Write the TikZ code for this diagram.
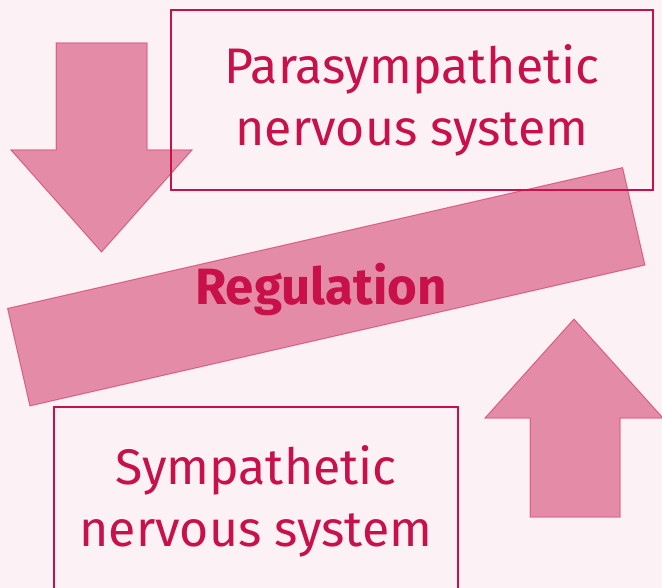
\documentclass[tikz,border=0pt]{standalone}
\usepackage{fontspec}
\setmainfont{Fira Sans}
\definecolor{crimson}{HTML}{C8104A}
\definecolor{blush}{HTML}{FCF2F5}
\tikzset{
  nsbox/.style={draw=crimson, line width=2pt, text=crimson, align=center,
    inner sep=0pt, font=\fontsize{50}{62}\selectfont},
  shade/.style={fill=crimson, fill opacity=0.45, draw=crimson, draw opacity=0.5, line width=1pt},
}

\begin{document}
\begin{tikzpicture}[x=1pt,y=-1pt]
  \fill[blush] (0,0) rectangle (662,588);
  \clip (0,0) rectangle (662,588);

  % the two systems
  \node[nsbox, minimum width=482, minimum height=180] (para) at (412,100) {Parasympathetic\\nervous system};
  \node[nsbox, minimum width=404, minimum height=188] (symp) at (256,501) {Sympathetic\\nervous system};

  % regulation band
  \node[shade, rotate=12.9, minimum width=631, minimum height=100, inner sep=0pt] (band) at (326.25,286.75) {};

  % arrows
  \draw[shade] (56,43) -- (147,43) -- (147,150) -- (192,150) -- (101.5,252) -- (11,150) -- (56,150) -- cycle;
  \draw[shade] (530,517) -- (620,517) -- (620,418) -- (663,418) -- (574,319) -- (485,418) -- (530,418) -- cycle;

  \node[text=crimson, font=\bfseries\fontsize{51}{60}\selectfont] (reg) at (321,289) {Regulation};
\end{tikzpicture}
\end{document}
